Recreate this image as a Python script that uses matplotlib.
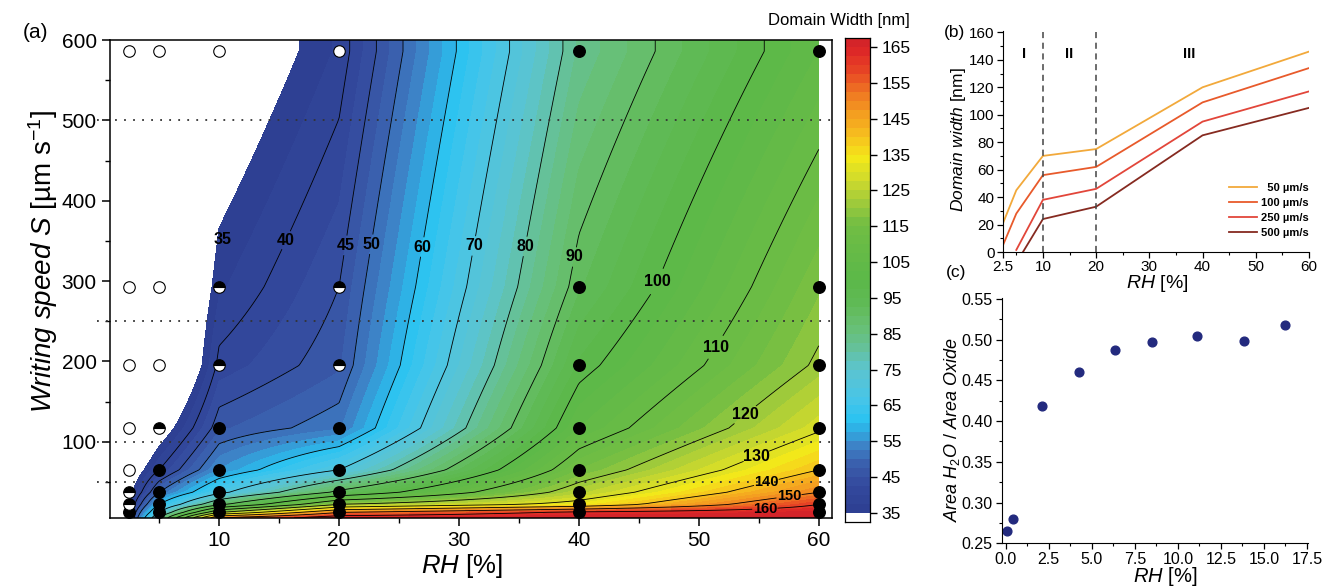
import numpy as np
import matplotlib
matplotlib.use('Agg')
import matplotlib.pyplot as plt
from matplotlib.colors import LinearSegmentedColormap, ListedColormap, BoundaryNorm
from matplotlib.ticker import MultipleLocator, FixedLocator, FormatStrFormatter

plt.rcParams['font.family'] = ['Liberation Sans', 'DejaVu Sans']
plt.rcParams['mathtext.fontset'] = 'custom'
plt.rcParams['mathtext.rm'] = 'Liberation Sans'
plt.rcParams['mathtext.it'] = 'Liberation Sans:italic'
plt.rcParams['mathtext.bf'] = 'Liberation Sans:bold'

# ---- panel (a): domain width map, one list per RH column (S ascending)
rh_cols = [2.5, 5, 10, 20, 40, 60]
s_rows = [5.5, 12, 22, 37, 65, 117, 195, 293, 586]
width_rh2p5 = [38, 38, 35.5, 33, 30, 22, 12, 10, 10]
width_rh5 = [80, 70, 60, 50, 40, 31, 20, 20, 15]
width_rh10 = [150, 120, 88, 68, 55, 47, 41, 37, 29]
width_rh20 = [166, 150, 120, 92, 70, 52, 47, 45, 38]
width_rh40 = [168, 162, 133, 124, 115, 105, 98, 92, 83]
width_rh60 = [168, 166, 160, 150, 140, 129, 121, 117, 105]
# marker type per point: f filled, h half filled, o open, - none
dots_rh2p5 = '-fhhooooo'
dots_rh5 = '-ffffhooo'
dots_rh10 = '-fffffhho'
dots_rh20 = '-fffffhho'
dots_rh40 = '-ffffffff'
dots_rh60 = '-ffffffff'

line_levels = [40, 45, 50, 60, 70, 80, 90, 100, 110, 120, 130, 140, 150, 160]
label_pos = [(15.7, 350), (20.3, 345), (23.0, 345), (26.7, 343), (30.8, 345),
             (34.9, 345), (39.3, 331), (45.8, 304), (50.0, 232), (53.3, 145),
             (54.6, 90), (55.5, 58), (57.5, 34), (55.5, 19)]
speed_lines = [50, 100, 250, 500]

# ---- panel (b)
rh_b = [2.5, 5, 10, 20, 40, 60]
w_50 = [21, 45, 70, 75, 120, 146]
w_100 = [5, 28, 56, 62, 109, 134]
rh_b2 = [5, 10, 20, 40, 60]
w_250 = [1.5, 38, 46, 95, 117]
w_500 = [-8, 24, 33, 85, 105]

# ---- panel (c)
rh_c = [0.06, 0.4, 2.1, 4.26, 6.37, 8.52, 11.1, 13.87, 16.23]
ratio_c = [0.2655, 0.2794, 0.419, 0.460, 0.487, 0.4967, 0.5045, 0.4988, 0.5174]

# colour scale (Origin like)
cmap_vals = [35, 42, 48, 54, 60, 66, 75, 82, 88, 93, 100, 115, 122, 128, 134,
             140, 146, 152, 158, 163, 167.5]
cmap_cols = ['#2D3F92', '#33489C', '#3A5DAC', '#3D85C8', '#28C3F1', '#45C5EA',
             '#5CC4CF', '#66C193', '#67BF6E', '#60BA56', '#5BB849', '#70BD44',
             '#A3CC3A', '#CFDA2C', '#F4E919', '#F7C31E', '#F4A020', '#EF7A22',
             '#E84A25', '#E02A27', '#D02229']
base = LinearSegmentedColormap.from_list(
    'dw', [((v - 35) / (167.5 - 35), c) for v, c in zip(cmap_vals, cmap_cols)])
fill_levels = np.arange(35, 170, 2.5)
mids = (fill_levels[:-1] + fill_levels[1:]) / 2
band_cmap = ListedColormap(base((mids - 35) / (167.5 - 35)))
band_cmap.set_under('white')
band_cmap.set_over(cmap_cols[-1])
norm = BoundaryNorm(fill_levels, band_cmap.N)

# bilinear field from the measured grid
Z = np.array([width_rh2p5, width_rh5, width_rh10, width_rh20, width_rh40, width_rh60]).T
s_fine = np.linspace(5, 600, 500)
rh_fine = np.linspace(2.5, 60, 500)
cols = np.array([np.interp(s_fine, s_rows, Z[:, j]) for j in range(len(rh_cols))]).T
Zf = np.array([np.interp(rh_fine, rh_cols, row) for row in cols])

fig = plt.figure(figsize=(13.25, 5.87), dpi=100)

# ================= (a)
ax = fig.add_axes([0.0830, 0.1175, 0.5449, 0.8143])
ax.contourf(rh_fine, s_fine, Zf, levels=fill_levels, cmap=band_cmap, norm=norm,
            extend='both', zorder=1)
for lev, pos in zip(line_levels, label_pos):
    cs = ax.contour(rh_fine, s_fine, Zf, levels=[lev], colors='black',
                    linewidths=0.6, zorder=2)
    fs = 11.5 if lev < 140 else 10.5
    txts = ax.clabel(cs, manual=[pos], fmt='%d', fontsize=fs, inline_spacing=1)
    for t in txts:
        t.set_rotation(0)
        t.set_fontweight('bold')
ax.text(10.3, 352, '35', fontsize=11.5, fontweight='bold', ha='center', va='center', zorder=3)

for s in speed_lines:
    ax.axhline(s, xmin=-0.018, xmax=1.0, color='#333333', lw=1.3,
               ls=(0, (1, 4)), clip_on=False, zorder=3)

dot_sets = [dots_rh2p5, dots_rh5, dots_rh10, dots_rh20, dots_rh40, dots_rh60]
for rh, kinds in zip(rh_cols, dot_sets):
    for s, k in zip(s_rows, kinds):
        if k == 'f':
            ax.plot(rh, s, 'o', ms=8.3, mfc='black', mec='black', clip_on=False, zorder=5)
        elif k == 'h':
            ax.plot(rh, s, 'o', ms=8.3, fillstyle='top', mfc='black', mfcalt='white',
                    mec='black', mew=0.8, clip_on=False, zorder=5)
        elif k == 'o':
            ax.plot(rh, s, 'o', ms=8.3, mfc='white', mec='black', mew=0.8,
                    clip_on=False, zorder=5)

ax.set_xlim(0.9, 61.1)
ax.set_ylim(5, 600)
ax.xaxis.set_major_locator(FixedLocator([10, 20, 30, 40, 50, 60]))
ax.xaxis.set_minor_locator(FixedLocator([5, 15, 25, 35, 45, 55]))
ax.yaxis.set_major_locator(FixedLocator([100, 200, 300, 400, 500, 600]))
ax.yaxis.set_minor_locator(FixedLocator([50, 150, 250, 350, 450, 550]))
ax.tick_params(which='major', direction='out', length=6, width=1.1, labelsize=15)
ax.tick_params(which='minor', direction='out', length=3.5, width=1.0)
for sp in ax.spines.values():
    sp.set_linewidth(1.1)
fig.text(36 / 1325, 1 - 33 / 587, '(a)', fontsize=15, ha='center', va='center')
fig.text(462 / 1325, 1 - 566 / 587, r'$\mathit{RH}$ [%]', fontsize=18.5,
         ha='center', va='center')
fig.text(43 / 1325, 1 - 262 / 587, r'$\mathit{Writing\ speed\ S}$ [µm s$^{-1}$]',
         fontsize=20, rotation=90, ha='center', va='center')

# colour bar
cax = fig.add_axes([845 / 1325, 1 - 522 / 587, 25 / 1325, 484 / 587])
cb_edges = np.concatenate([[32.5], fill_levels])
cb_vals = np.concatenate([[33.0], mids])
cax.pcolormesh([0, 1], cb_edges, cb_vals.reshape(-1, 1), cmap=band_cmap, norm=norm)
cax.set_ylim(32.5, 167.5)
cax.set_xticks([])
cax.yaxis.tick_right()
cax.set_yticks(np.arange(35, 170, 10))
cax.tick_params(axis='y', direction='out', length=5, width=1.0, labelsize=12.5)
for sp in cax.spines.values():
    sp.set_linewidth(0.9)
fig.text(768 / 1325, 1 - 20 / 587, 'Domain Width [nm]', fontsize=12, ha='left', va='center')

# ================= (b)
axb = fig.add_axes([1003 / 1325, 1 - 252 / 587, 306 / 1325, 221 / 587])
axb.plot(rh_b, w_50, color='#F2A93B', lw=1.3, label='  50 µm/s')
axb.plot(rh_b, w_100, color='#E85A2B', lw=1.3, label='100 µm/s')
axb.plot(rh_b2, w_250, color='#E2463A', lw=1.3, label='250 µm/s')
axb.plot(rh_b2, w_500, color='#862A20', lw=1.3, label='500 µm/s')
for xv in [10, 20]:
    axb.axvline(xv, color='#444444', lw=1.1, ls=(0, (4, 3)))
for xr, txt in zip([6.5, 15, 37.5], ['I', 'II', 'III']):
    axb.text(xr, 144, txt, fontsize=10.5, fontweight='bold', ha='center', va='center')
axb.set_xlim(2.5, 60)
axb.set_ylim(0, 161)
axb.xaxis.set_major_locator(FixedLocator([2.5, 10, 20, 30, 40, 50, 60]))
axb.xaxis.set_minor_locator(FixedLocator([5, 15, 25, 35, 45, 55]))
axb.set_xticklabels(['2.5', '10', '20', '30', '40', '50', '60'])
axb.yaxis.set_major_locator(MultipleLocator(20))
axb.yaxis.set_minor_locator(MultipleLocator(10))
axb.spines['top'].set_visible(False)
axb.spines['right'].set_visible(False)
axb.tick_params(which='major', direction='out', length=4.5, width=0.9, labelsize=11, pad=1.5)
axb.tick_params(which='minor', direction='out', length=2.5, width=0.8)
axb.legend(loc='lower right', frameon=False, handlelength=2.5, handletextpad=0.35,
           prop={'size': 8, 'weight': 'bold'}, borderaxespad=0, borderpad=0.4,
           labelspacing=0.45, bbox_to_anchor=(1.014, 0.045))
fig.text(1157 / 1325, 1 - 284 / 587, r'$\mathit{RH}$ [%]', fontsize=14, ha='center', va='center')
fig.text(959 / 1325, 1 - 140 / 587, r'$\mathit{Domain\ width}$ [nm]', fontsize=12.5,
         rotation=90, ha='center', va='center')
fig.text(955 / 1325, 1 - 32 / 587, '(b)', fontsize=12.5, ha='center', va='center')

# ================= (c)
axc = fig.add_axes([1001.7 / 1325, 1 - 543.3 / 587, 306.3 / 1325, 245.3 / 587])
axc.plot(rh_c, ratio_c, 'o', ms=6.3, color='#232A7E', clip_on=False)
axc.set_xlim(-0.23, 17.56)
axc.set_ylim(0.25, 0.551)
axc.xaxis.set_major_locator(MultipleLocator(2.5))
axc.xaxis.set_minor_locator(MultipleLocator(1.25))
axc.yaxis.set_major_locator(MultipleLocator(0.05))
axc.yaxis.set_minor_locator(MultipleLocator(0.025))
axc.xaxis.set_major_formatter(FormatStrFormatter('%.1f'))
axc.yaxis.set_major_formatter(FormatStrFormatter('%.2f'))
axc.spines['top'].set_visible(False)
axc.spines['right'].set_visible(False)
axc.tick_params(which='major', direction='out', length=4.5, width=0.9, labelsize=11.5, pad=2)
axc.tick_params(which='minor', direction='out', length=2.5, width=0.8)
fig.text(1165 / 1325, 1 - 577 / 587, r'$\mathit{RH}$ [%]', fontsize=14.5, ha='center', va='center')
fig.text(952 / 1325, 1 - 430 / 587, r'$\mathit{Area\ H_2O\ /\ Area\ Oxide}$', fontsize=13,
         rotation=90, ha='center', va='center')
fig.text(956 / 1325, 1 - 273 / 587, '(c)', fontsize=12.5, ha='center', va='center')

fig.savefig('out.png', dpi=100)
